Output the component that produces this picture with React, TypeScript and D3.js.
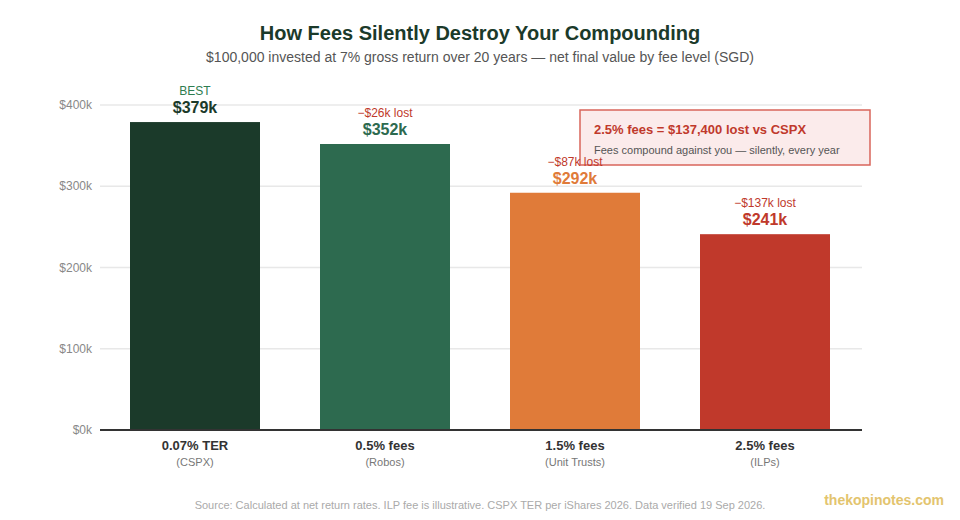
import React from "react";
import * as d3 from "d3";

const categories = ["0.07% TER", "0.5% fees", "1.5% fees", "2.5% fees"];
const subLabels = ["(CSPX)", "(Robos)", "(Unit Trusts)", "(ILPs)"];
const values = [379, 352, 292, 241];
const valueLabels = ["$379k", "$352k", "$292k", "$241k"];
const topNotes = ["BEST", "\u2212$26k lost", "\u2212$87k lost", "\u2212$137k lost"];
const barColors = ["#1b3a2a", "#2d6a4f", "#e07b39", "#c0392b"];
const yTicks = [0, 100, 200, 300, 400];

const W = 960;
const H = 520;
const FONT = "'Liberation Sans', Arial, Helvetica, sans-serif";

export default function App() {
  const x = d3
    .scaleBand<string>()
    .domain(categories)
    .range([100, 860])
    .paddingInner(0.3158)
    .paddingOuter(0.1579);
  const y = d3.scaleLinear().domain([0, 400]).range([430, 105]);

  return (
    <svg width={W} height={H} style={{ position: "absolute", left: 0, top: 0, fontFamily: FONT }}>
      <rect x={0} y={0} width={W} height={H} fill="#ffffff" />
      <text x={480} y={40} textAnchor="middle" fontSize={20} fontWeight="bold" fill="#1b3a2a">
        How Fees Silently Destroy Your Compounding
      </text>
      <text x={480} y={62} textAnchor="middle" fontSize={14} fill="#555">
        $100,000 invested at 7% gross return over 20 years — net final value by fee level (SGD)
      </text>

      {yTicks.map((t) => (
        <g key={t}>
          {t > 0 && <line x1={100} x2={862} y1={y(t)} y2={y(t)} stroke="#e8e8e8" strokeWidth={1.5} />}
          <text x={92} y={y(t) + 4} textAnchor="end" fontSize={12} fill="#888">
            ${t}k
          </text>
        </g>
      ))}

      <rect x={580} y={110} width={290} height={55} fill="#fbeaea" fillOpacity={0.95} stroke="#d9655b" strokeWidth={1.5} />
      <text x={594} y={134} fontSize={13} fontWeight="bold" fill="#c0392b">
        2.5% fees = $137,400 lost vs CSPX
      </text>
      <text x={594} y={154} fontSize={11} fill="#555">
        Fees compound against you — silently, every year
      </text>

      {categories.map((c, i) => {
        const bx = x(c)!;
        const cx = bx + x.bandwidth() / 2;
        const top = y(values[i]);
        return (
          <g key={c}>
            <rect x={bx} y={top} width={x.bandwidth()} height={430 - top} fill={barColors[i]} />
            <text x={cx} y={top - 9} textAnchor="middle" fontSize={16} fontWeight="bold" fill={barColors[i]}>
              {valueLabels[i]}
            </text>
            <text
              x={cx}
              y={top - 27}
              textAnchor="middle"
              fontSize={12}
              fill={i === 0 ? "#2e7d50" : "#c0392b"}
            >
              {topNotes[i]}
            </text>
            <text x={cx} y={450} textAnchor="middle" fontSize={13} fontWeight="bold" fill="#333">
              {c}
            </text>
            <text x={cx} y={466} textAnchor="middle" fontSize={11} fill="#777">
              {subLabels[i]}
            </text>
          </g>
        );
      })}

      <line x1={100} x2={862} y1={430} y2={430} stroke="#333" strokeWidth={2} />

      <text x={480} y={509} textAnchor="middle" fontSize={11} fill="#aaa">
        Source: Calculated at net return rates. ILP fee is illustrative. CSPX TER per iShares 2026. Data verified 19 Sep 2026.
      </text>
      <text x={944} y={505} textAnchor="end" fontSize={14} fontWeight="bold" fill="#e3c46e">
        thekopinotes.com
      </text>
    </svg>
  );
}
